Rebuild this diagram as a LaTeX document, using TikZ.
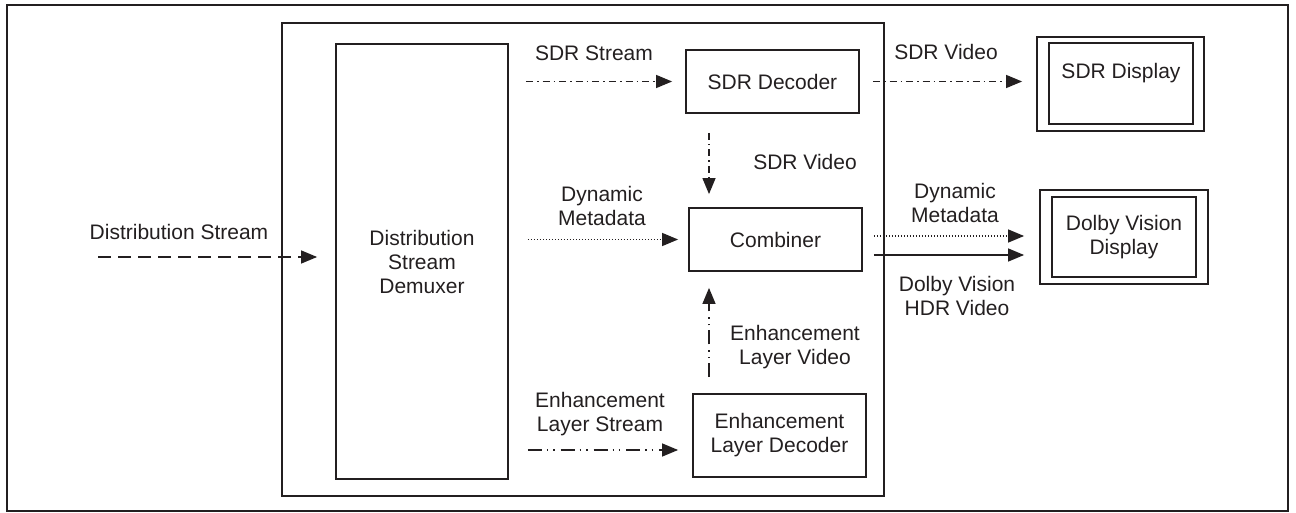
\documentclass[tikz,border=0pt]{standalone}
\usepackage{fontspec}
\setmainfont{Liberation Sans}
\usetikzlibrary{arrows.meta,calc}
\definecolor{ink}{HTML}{231F20}
\tikzset{
  box/.style={draw=ink, line width=0.9pt, inner sep=0pt, align=center, text=ink, font=\fontsize{10.5}{12}\selectfont},
  lbl/.style={text=ink, align=center, inner sep=0pt, font=\fontsize{10.5}{12}\selectfont},
  arr/.style={draw=ink, line width=0.65pt, -{Triangle[length=8pt,width=6.5pt]}},
  dashdot/.style={dash pattern=on 3.5pt off 2pt on 0.8pt off 2pt},
  dashdotdot/.style={dash pattern=on 7pt off 2.5pt on 0.7pt off 2.5pt on 0.7pt off 3pt},
  dotline/.style={dash pattern=on 0.6pt off 0.9pt},
  longdash/.style={dash pattern=on 6.5pt off 3.5pt}
}
\begin{document}
\begin{tikzpicture}[x=0.5pt,y=-0.5pt]
\useasboundingbox (0,0) rectangle (1296,513);
% frames
\node[box, line width=1.1pt, minimum width=640.5pt, minimum height=253pt] (outer) at (647.5,258) {};
\node[box, minimum width=301pt, minimum height=236.5pt] (inner) at (583,259.5) {};
% blocks
\node[box, minimum width=86pt, minimum height=217.5pt] (demux) at (422,261.5) {Distribution\\Stream\\Demuxer};
\node[box, minimum width=86.5pt, minimum height=31.5pt] (sdrdec) at (772.5,81.5) {SDR Decoder};
\node[box, minimum width=86.5pt, minimum height=31.5pt] (comb) at (775.5,239.5) {Combiner};
\node[box, minimum width=86.5pt, minimum height=41.5pt] (eld) at (779.5,435.5) {Enhancement\\Layer Decoder};
% displays
\node[box, minimum width=83.5pt, minimum height=47pt] (sdrout) at (1120.5,84) {};
\node[box, minimum width=72pt, minimum height=40.5pt] (sdrin) at (1121,83.5) {};
\node[lbl] (sdrtxt) at (1121,73) {SDR Display};
\node[box, minimum width=84pt, minimum height=47pt] (dvout) at (1124,237) {};
\node[box, minimum width=72pt, minimum height=40pt] (dvin) at (1124,237) {Dolby Vision\\Display};
% helper coordinates
\coordinate (dsin) at (98,257);
\coordinate (vx) at (709,0);
\coordinate (esy) at (0,450);
\coordinate (dmy) at (0,236);
\coordinate (hdy) at (0,255);
% connectors
\draw[arr,longdash] (dsin) -- ($(dsin -| demux.west)+(-9pt,0)$);
\draw[arr,dashdot, shorten <=8.5pt, shorten >=6.5pt] (demux.east |- sdrdec.west) -- (sdrdec.west);
\draw[arr,dotline, shorten <=9.5pt, shorten >=5pt] (demux.east |- comb.west) -- (comb.west);
\draw[arr,dashdotdot, shorten <=9.5pt, shorten >=7pt] (demux.east |- esy) -- (eld.west |- esy);
\draw[arr,dashdot, shorten <=9.5pt, shorten >=6.5pt] (sdrdec.south -| vx) -- (comb.north -| vx);
\draw[arr,dashdotdot, shorten <=8pt, shorten >=8pt] (eld.north -| vx) -- (comb.south -| vx);
\draw[arr,dashdot, shorten <=6.5pt, shorten >=7pt] (sdrdec.east) -- (sdrout.west |- sdrdec.east);
\draw[arr,dotline, shorten <=5.5pt, shorten >=7.5pt] (comb.east |- dmy) -- (dvout.west |- dmy);
\draw[arr, shorten <=5.5pt, shorten >=7.5pt] (comb.east |- hdy) -- (dvout.west |- hdy);
% labels
\node[lbl] (l1) at (179,232) {Distribution Stream};
\node[lbl] (l2) at (594,53) {SDR Stream};
\node[lbl] (l3) at (946,52) {SDR Video};
\node[lbl] (l4) at (805,162) {SDR Video};
\node[lbl] (l5) at (602,206) {Dynamic\\Metadata};
\node[lbl] (l6) at (955,203) {Dynamic\\Metadata};
\node[lbl] (l7) at (957,296) {Dolby Vision\\HDR Video};
\node[lbl] (l8) at (795,347) {Enhancement\\Layer Video};
\node[lbl] (l9) at (600,414) {Enhancement\\Layer Stream};
\end{tikzpicture}
\end{document}
